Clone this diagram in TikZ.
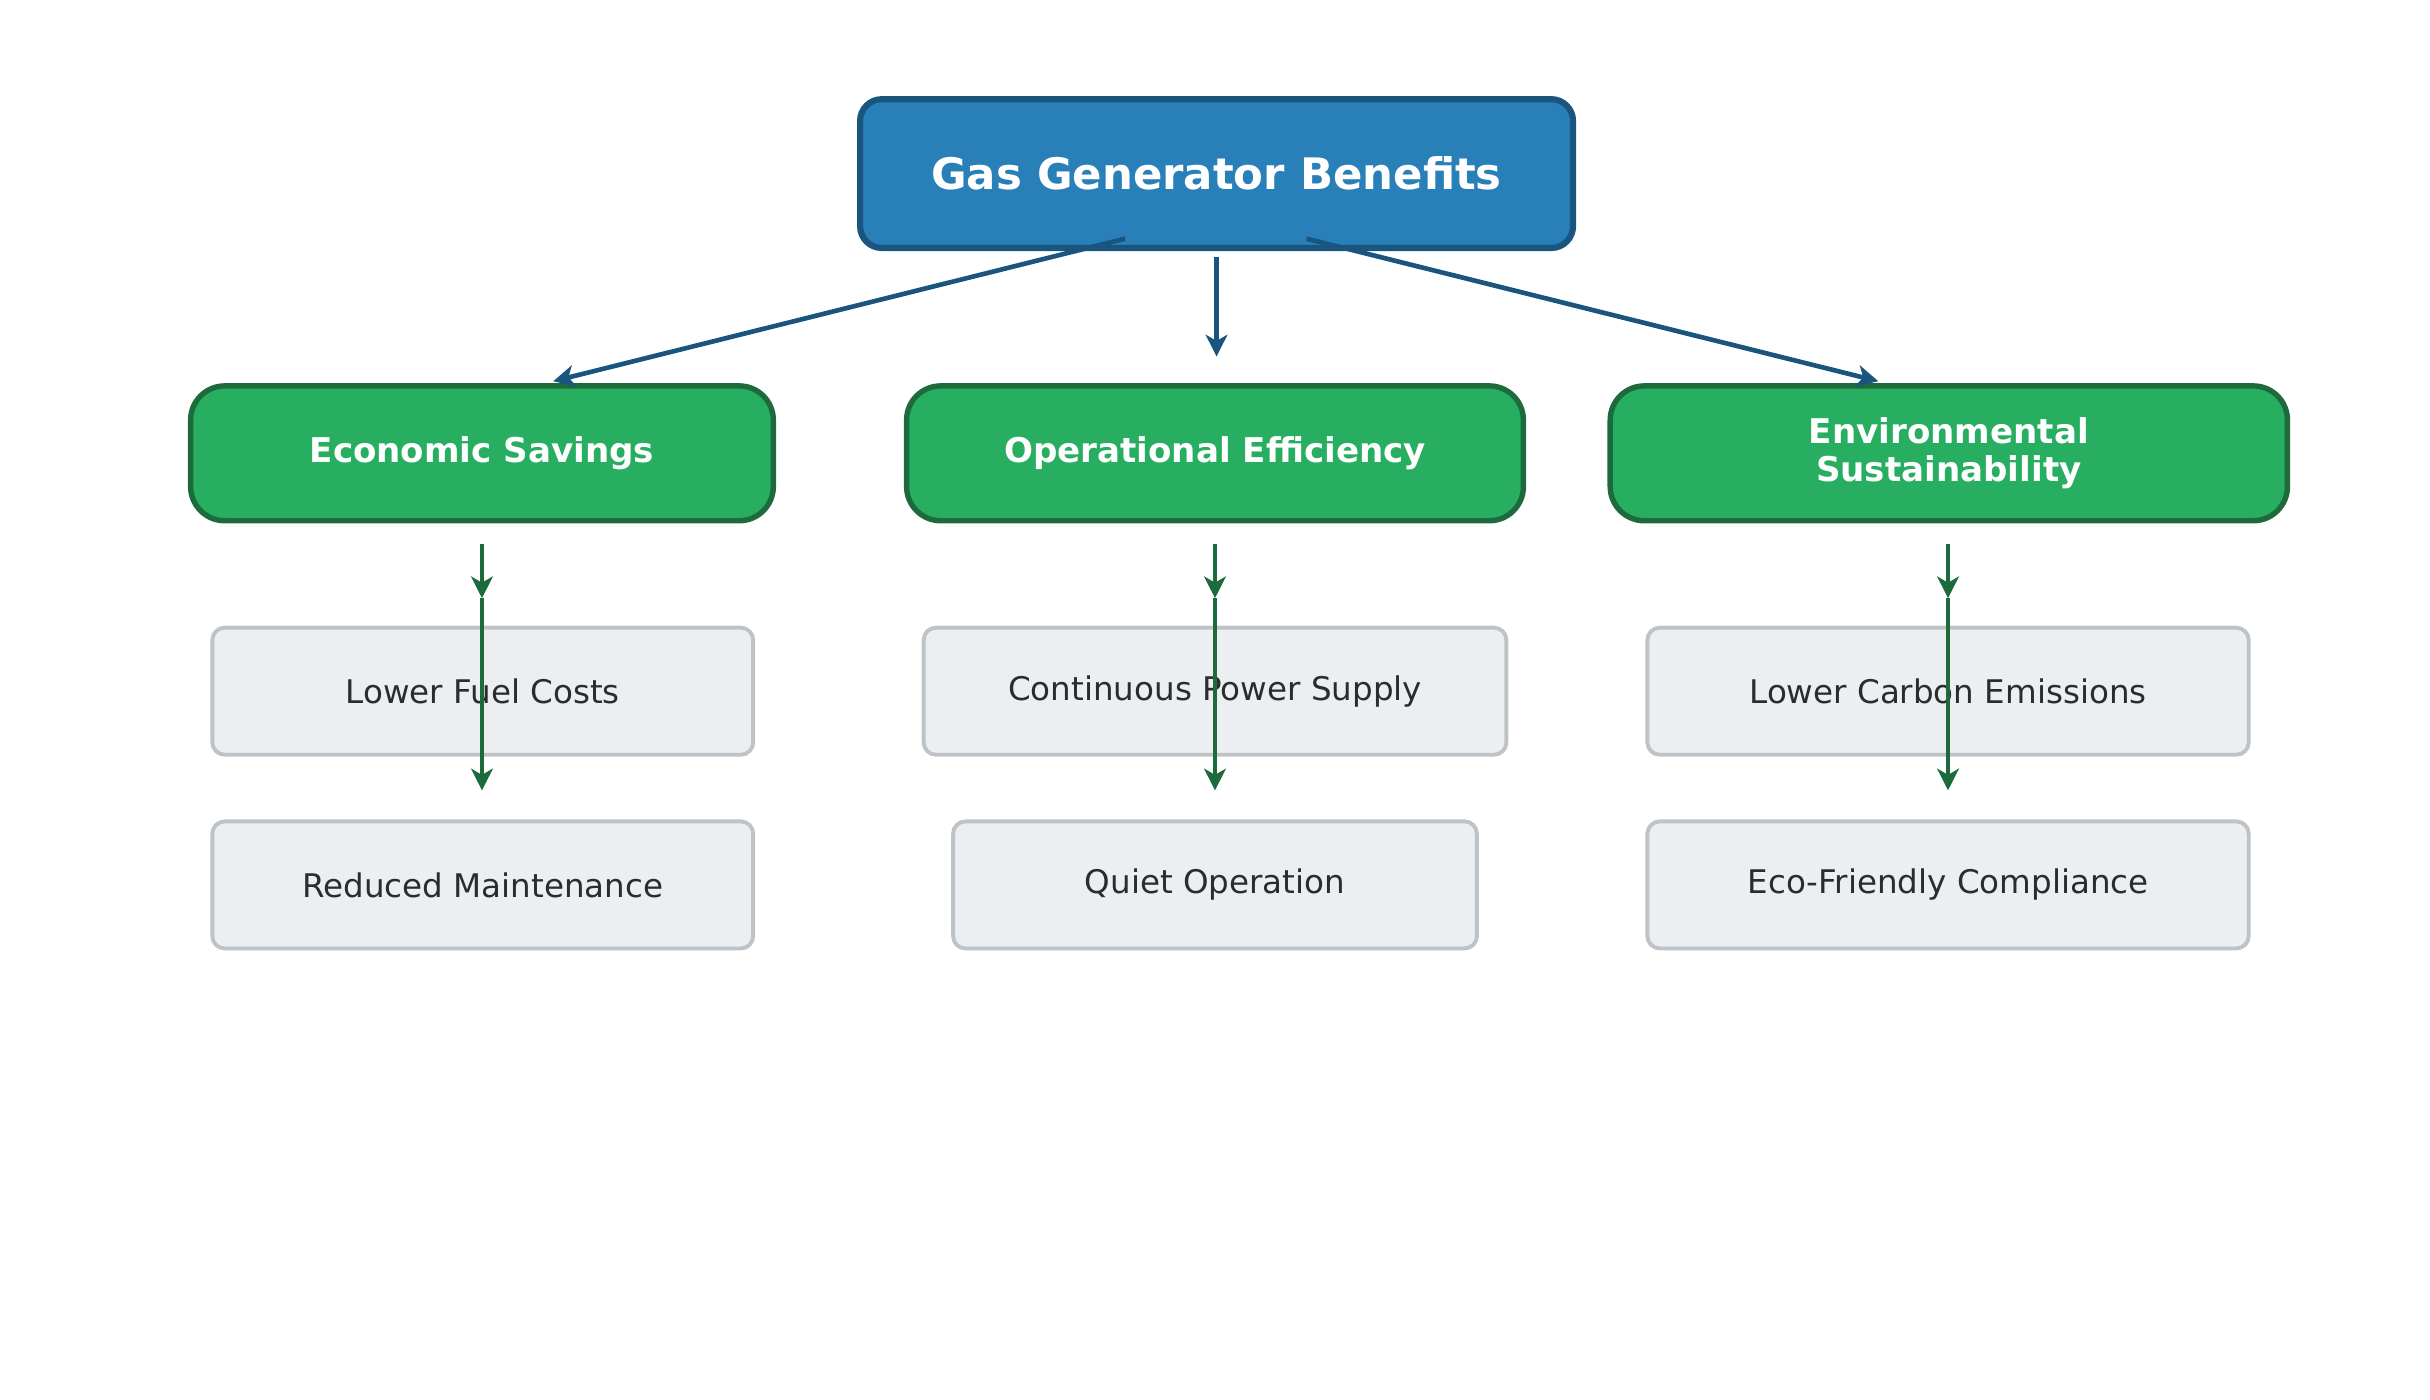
\documentclass[tikz,border=0pt]{standalone}
\usepackage{fontspec}
\setmainfont{DejaVu Sans}
\usetikzlibrary{arrows.meta}
\definecolor{topf}{HTML}{2980B9}
\definecolor{topd}{HTML}{1A5580}
\definecolor{grf}{HTML}{27AE60}
\definecolor{grd}{HTML}{1D6B3C}
\definecolor{gyf}{HTML}{ECEFF1}
\definecolor{gyd}{HTML}{BDC3C7}
\definecolor{txt}{HTML}{2C2C2C}
\begin{document}
\begin{tikzpicture}[x=1pt,y=-1pt,
 topbox/.style={draw=topd,fill=topf,line width=4pt,rounded corners=14pt,text=white,font=\fontsize{28}{32}\selectfont\bfseries},
 grbox/.style={draw=grd,fill=grf,line width=3.5pt,rounded corners=22pt,text=white,align=center,font=\fontsize{22}{25}\selectfont\bfseries},
 gybox/.style={draw=gyd,fill=gyf,line width=2.5pt,rounded corners=8pt,text=txt,font=\fontsize{21}{24}\selectfont},
 barr/.style={draw=topd,line width=3pt,-{Stealth[length=14pt,width=14pt,inset=4pt]}},
 garr/.style={draw=grd,line width=3pt,-{Stealth[length=14pt,width=14pt,inset=4pt]}}]
\useasboundingbox (0,0) rectangle (1568,903);
\node[topbox,minimum width=460pt,minimum height=96pt] (top) at (785,112) {Gas Generator Benefits};
\node[grbox,minimum width=376pt,minimum height=87pt] (g1) at (311,292.5) {Economic Savings};
\node[grbox,minimum width=398pt,minimum height=87pt] (g2) at (784,292.5) {Operational Efficiency};
\node[grbox,minimum width=437pt,minimum height=87pt] (g3) at (1257.5,292.5) {Environmental\\Sustainability};
\node[gybox,minimum width=349pt,minimum height=82pt] (a1) at (311.5,446) {Lower Fuel Costs};
\node[gybox,minimum width=376pt,minimum height=82pt] (a2) at (784,446) {Continuous Power Supply};
\node[gybox,minimum width=388pt,minimum height=82pt] (a3) at (1257,446) {Lower Carbon Emissions};
\node[gybox,minimum width=349pt,minimum height=82pt] (b1) at (311.5,571) {Reduced Maintenance};
\node[gybox,minimum width=338pt,minimum height=82pt] (b2) at (784,571) {Quiet Operation};
\node[gybox,minimum width=388pt,minimum height=82pt] (b3) at (1257,571) {Eco-Friendly Compliance};
\coordinate (t1) at (726,154); \coordinate (t3) at (843,154);
\draw[barr] (t1) -- (357,246);
\draw[barr] (785,166) -- (785,230);
\draw[barr] (t3) -- (1212,246);
\foreach \i/\x in {1/311,2/784,3/1257}{
 \coordinate (s\i) at (\x,351); \coordinate (m\i) at (\x,386); \coordinate (e\i) at (\x,510);
 \draw[garr] (s\i) -- (m\i);
 \draw[garr] (m\i) -- (e\i);
}
\end{tikzpicture}
\end{document}
